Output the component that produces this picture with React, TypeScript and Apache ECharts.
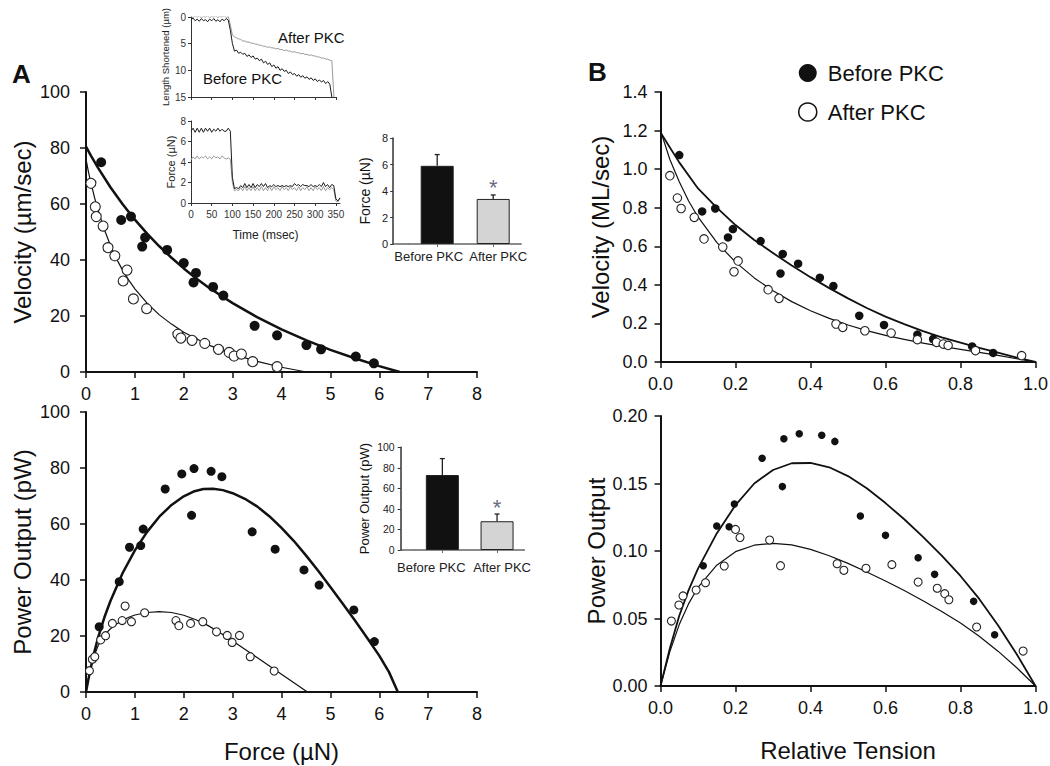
import React, { useEffect, useRef } from "react";
import * as echarts from "echarts";

const FONT = "'Liberation Sans', Arial, Helvetica, sans-serif";
const INK = "#111111";
const TRACE_GRAY = "#9a9a9a";

// ---------- Panel A : velocity vs force ----------
const A_VEL_BEFORE = [[0.31,74.9],[0.72,54.3],[0.92,55.5],[1.15,44.8],[1.21,48],[1.66,43.6],[2.0,38.9],[2.2,32],[2.25,35.4],[2.6,30.4],[2.81,27.3],[3.45,16.5],[3.91,13.1],[4.51,9.6],[4.81,8.1],[5.52,5.5],[5.89,3.1]];
const A_VEL_AFTER = [[0.10,67.4],[0.19,59],[0.21,55.5],[0.35,52.1],[0.45,44.4],[0.59,41.5],[0.76,32.5],[0.84,36.4],[0.97,26.1],[1.24,22.6],[1.88,13.5],[1.94,12.1],[2.17,11.3],[2.43,10.2],[2.71,8.1],[2.93,7],[3.03,5.7],[3.18,6.4],[3.41,3.7],[3.91,1.9]];
const A_VEL_FIT_BEFORE = [[0,80.5],[0.1,77.3],[0.25,72.8],[0.5,66],[0.75,59.9],[1,54.4],[1.25,49.4],[1.5,44.9],[1.75,40.8],[2,37],[2.25,33.5],[2.5,30.3],[2.75,27.4],[3,24.6],[3.5,19.6],[4,15.2],[4.5,11.4],[5,7.9],[5.5,4.9],[6,2.1],[6.42,0]];
const A_VEL_FIT_AFTER = [[0,76],[0.05,71.5],[0.1,67.6],[0.175,62.3],[0.25,57.5],[0.375,50.9],[0.5,45.2],[0.625,40.4],[0.75,36.3],[0.875,32.8],[1,29.7],[1.25,24.6],[1.5,20.4],[1.75,17.1],[2,14.2],[2.5,9.7],[3,6.4],[3.5,3.8],[4,1.7],[4.51,0]];

// ---------- Panel A : power vs force ----------
const A_POW_BEFORE = [[0.27,23.3],[0.68,39.4],[0.89,51.7],[1.12,52.3],[1.17,58.2],[1.62,72.5],[1.96,77.9],[2.16,63.1],[2.21,79.8],[2.56,78.8],[2.78,76.9],[3.4,57.2],[3.87,51],[4.46,43.6],[4.77,38.2],[5.48,29.3],[5.9,18]];
const A_POW_AFTER = [[0.07,7.6],[0.13,11.7],[0.18,12.6],[0.30,18.6],[0.40,20.1],[0.54,24.5],[0.74,25.5],[0.80,30.7],[0.93,25.1],[1.2,28.3],[1.84,25.5],[1.9,23.7],[2.14,24.5],[2.39,25.1],[2.67,21.5],[2.89,20.2],[2.99,17.7],[3.14,20.2],[3.36,12.6],[3.85,7.5]];
const A_POW_FIT_BEFORE = [[0,0],[0.05,4.6],[0.1,8.8],[0.175,14.6],[0.25,19.6],[0.375,26.6],[0.5,32.5],[0.75,42.5],[1,50.6],[1.25,57.2],[1.5,62.6],[1.75,66.8],[2,69.9],[2.2,71.6],[2.4,72.5],[2.6,72.6],[2.8,72.1],[3,71],[3.25,69],[3.5,66.3],[3.75,62.8],[4,58.6],[4.25,54],[4.5,48.8],[4.75,43.3],[5,37.5],[5.25,31.6],[5.5,25.6],[5.75,19.4],[6,13],[6.2,7.1],[6.38,0]];
const A_POW_FIT_AFTER = [[0,0],[0.05,4.8],[0.1,8.8],[0.175,13.3],[0.25,16.6],[0.375,20.3],[0.5,22.6],[0.625,24.3],[0.75,25.6],[0.875,26.7],[1,27.5],[1.25,28.4],[1.5,28.7],[1.75,28.4],[2,27.4],[2.25,25.8],[2.5,23.7],[2.75,21.1],[3,18.2],[3.5,12.3],[4,6.3],[4.53,0]];

// ---------- Panel B : velocity vs relative tension ----------
const B_VEL_BEFORE = [[0.05,1.073],[0.111,0.781],[0.146,0.796],[0.18,0.646],[0.193,0.689],[0.267,0.627],[0.326,0.56],[0.32,0.459],[0.367,0.51],[0.425,0.437],[0.461,0.394],[0.53,0.24],[0.596,0.192],[0.685,0.142],[0.727,0.119],[0.831,0.081],[0.887,0.047]];
const B_VEL_AFTER = [[0.025,0.966],[0.045,0.85],[0.055,0.796],[0.09,0.75],[0.116,0.638],[0.166,0.596],[0.196,0.468],[0.207,0.524],[0.287,0.375],[0.316,0.33],[0.468,0.197],[0.486,0.18],[0.545,0.162],[0.615,0.15],[0.685,0.116],[0.736,0.102],[0.754,0.093],[0.767,0.086],[0.84,0.059],[0.963,0.033]];
const B_VEL_FIT_BEFORE = [[0,1.19],[0.05,1.035],[0.1,0.9],[0.15,0.8],[0.2,0.71],[0.25,0.633],[0.3,0.565],[0.35,0.5],[0.4,0.44],[0.45,0.383],[0.5,0.33],[0.55,0.28],[0.6,0.235],[0.65,0.196],[0.7,0.16],[0.75,0.128],[0.8,0.1],[0.85,0.073],[0.9,0.048],[0.95,0.023],[1,0]];
const B_VEL_FIT_AFTER = [[0,1.2],[0.025,1.05],[0.05,0.935],[0.075,0.835],[0.1,0.752],[0.15,0.62],[0.2,0.518],[0.25,0.436],[0.3,0.369],[0.35,0.313],[0.4,0.266],[0.45,0.226],[0.5,0.192],[0.55,0.163],[0.6,0.138],[0.65,0.117],[0.7,0.098],[0.75,0.081],[0.8,0.065],[0.85,0.05],[0.9,0.034],[0.95,0.017],[1,0]];

// ---------- Panel B : power vs relative tension ----------
const B_POW_BEFORE = [[0.114,0.0891],[0.15,0.1185],[0.183,0.118],[0.197,0.1348],[0.271,0.1687],[0.325,0.1477],[0.329,0.1832],[0.37,0.1869],[0.43,0.1857],[0.465,0.1812],[0.533,0.1259],[0.6,0.1116],[0.687,0.095],[0.731,0.0827],[0.835,0.0627],[0.891,0.038]];
const B_POW_AFTER = [[0.029,0.0481],[0.049,0.06],[0.06,0.0667],[0.095,0.0711],[0.12,0.0765],[0.17,0.0889],[0.2,0.116],[0.212,0.11],[0.291,0.1081],[0.32,0.0891],[0.471,0.0906],[0.489,0.0857],[0.548,0.0872],[0.617,0.0899],[0.687,0.077],[0.738,0.0724],[0.758,0.0684],[0.769,0.0639],[0.843,0.0437],[0.967,0.0259]];
const B_POW_FIT_BEFORE = [[0,0],[0.025,0.028],[0.05,0.052],[0.075,0.071],[0.1,0.087],[0.15,0.113],[0.2,0.134],[0.25,0.15],[0.3,0.16],[0.35,0.165],[0.4,0.1652],[0.45,0.162],[0.5,0.1555],[0.55,0.1465],[0.6,0.1355],[0.65,0.1235],[0.7,0.1105],[0.75,0.0965],[0.8,0.0815],[0.85,0.0645],[0.9,0.045],[0.95,0.0235],[1,0]];
const B_POW_FIT_AFTER = [[0,0],[0.025,0.0255],[0.05,0.0455],[0.075,0.061],[0.1,0.073],[0.15,0.0895],[0.2,0.0995],[0.25,0.1043],[0.3,0.1057],[0.35,0.1045],[0.4,0.1012],[0.45,0.0965],[0.5,0.0908],[0.55,0.0845],[0.6,0.0778],[0.65,0.0707],[0.7,0.0632],[0.75,0.0552],[0.8,0.0466],[0.85,0.0368],[0.9,0.0258],[0.95,0.0135],[1,0]];

// ---------- Inset traces (time in msec) ----------
const TRACE_T = [0,5,10,15,20,25,30,35,40,45,50,55,60,65,70,75,80,85,90,95,100,105,110,115,120,125,130,135,140,145,150,155,160,165,170,175,180,185,190,195,200,205,210,215,220,225,230,235,240,245,250,255,260,265,270,275,280,285,290,295,300,305,310,315,320,325,330,335,340,345,350,355,360];
const LEN_BEFORE = [0.5,0.2,0.7,0.4,0.8,0.3,0.7,0.5,0.9,0.4,0.7,0.3,0.8,0.5,0.9,0.4,0.7,0.3,0.6,2.5,5.0,6.4,6.2,6.8,6.6,7.0,6.8,7.4,7.1,7.6,7.3,7.9,7.7,8.2,7.9,8.6,8.3,8.9,8.6,9.3,9.0,9.6,9.3,10.0,9.7,10.2,10.0,10.6,10.3,10.8,10.6,11.1,10.8,11.3,11.0,11.5,11.2,11.7,11.4,11.9,11.6,12.1,11.8,12.2,11.9,12.5,12.1,12.6,15];
const LEN_AFTER = [-0.1,0.1,-0.2,0.0,-0.2,0.1,-0.1,0.0,-0.2,0.1,-0.1,0.0,-0.2,0.1,-0.1,0.0,-0.2,0.1,-0.1,1.5,3.4,3.7,3.9,4.1,4.2,4.5,4.5,4.7,4.7,4.9,4.9,5.1,5.1,5.3,5.3,5.5,5.5,5.7,5.6,5.8,5.8,6.0,5.9,6.1,6.1,6.3,6.2,6.4,6.4,6.6,6.5,6.7,6.7,6.9,6.8,7.0,7.0,7.2,7.1,7.3,7.3,7.5,7.5,7.7,7.7,7.9,7.9,8.1,8.2,15];
const FORCE_BEFORE = [7.0,7.3,6.9,7.3,6.9,7.3,6.9,7.3,7.0,7.3,6.9,7.2,7.0,7.3,7.0,7.2,7.0,7.0,7.3,7.0,2.5,1.4,1.5,1.4,1.7,1.5,1.9,1.5,1.8,1.5,1.9,1.5,1.8,1.6,1.9,1.6,1.9,1.5,1.7,1.6,1.8,1.6,1.7,1.6,1.7,1.6,1.7,1.6,1.7,1.6,1.9,1.7,1.8,1.6,1.8,1.7,1.7,1.6,1.8,1.6,1.7,1.6,1.8,1.6,2.0,1.6,1.8,1.5,1.8,1.7,0.4,0.2,0.5];
const FORCE_AFTER = [4.2,4.5,4.3,4.6,4.3,4.5,4.4,4.6,4.3,4.5,4.3,4.6,4.4,4.5,4.3,4.6,4.4,4.3,4.4,4.3,2.0,1.2,1.3,1.2,1.5,1.2,1.6,1.2,1.5,1.2,1.6,1.2,1.5,1.2,1.6,1.2,1.5,1.2,1.6,1.2,1.6,1.3,1.5,1.2,1.6,1.3,1.5,1.2,1.6,1.3,1.5,1.2,1.6,1.2,1.5,1.3,1.6,1.2,1.5,1.2,1.6,1.3,1.5,1.2,1.6,1.2,1.5,1.3,1.5,1.3,0.2,0.1,0.5];
const TIME_TICKS = [0,50,100,150,200,250,300,350];

// ---------- Bar insets ----------
const BAR_GROUPS = ["Before PKC", "After PKC"];
const FORCE_MEANS = [5.9, 3.4];
const FORCE_ERR = [0.85, 0.3];
const POWER_MEANS = [73, 28];
const POWER_ERR = [16, 7];
const SIGNIFICANT = [0, 1];
const BAR_COLORS = ["#111111", "#d4d4d4"];

const pairs = (vals: number[]) => vals.map((v, i) => [TRACE_T[i], v]);

function mainX(grid: number, min: number, max: number, interval: number, digits: number, name?: string, gap?: number) {
  return {
    gridIndex: grid, type: "value", min, max, interval,
    axisLine: { show: true, onZero: false, lineStyle: { color: INK, width: 2 } },
    axisTick: { show: true, length: 6, lineStyle: { color: INK, width: 1.5 } },
    axisLabel: { color: INK, fontSize: 18, fontFamily: FONT, margin: 13, formatter: (v: number) => v.toFixed(digits) },
    splitLine: { show: false },
    name, nameLocation: "middle", nameGap: gap,
    nameTextStyle: { color: INK, fontSize: 24, fontFamily: FONT },
  };
}
function mainY(grid: number, min: number, max: number, interval: number, digits: number, name: string, gap: number, margin: number) {
  return {
    gridIndex: grid, type: "value", min, max, interval,
    axisLine: { show: true, onZero: false, lineStyle: { color: INK, width: 2 } },
    axisTick: { show: true, length: 6, lineStyle: { color: INK, width: 1.5 } },
    axisLabel: { color: INK, fontSize: 18, fontFamily: FONT, margin, formatter: (v: number) => v.toFixed(digits) },
    splitLine: { show: false },
    name, nameLocation: "middle", nameGap: gap, nameRotate: 90,
    nameTextStyle: { color: INK, fontSize: 24, fontFamily: FONT },
  };
}
const smallLine = { show: true, onZero: false, lineStyle: { color: "#333", width: 1 } };
const smallTick = { show: true, length: 3, lineStyle: { color: "#333", width: 1 } };

function scatter(name: string, grid: number, data: number[][], filled: boolean, size: number) {
  return {
    name, type: "scatter", xAxisIndex: grid, yAxisIndex: grid, data, symbol: "circle", symbolSize: size, z: 4,
    itemStyle: filled
      ? { color: INK, borderColor: INK, borderWidth: 0, opacity: 1 }
      : { color: "#ffffff", borderColor: "#222", borderWidth: 1.1, opacity: 1 },
  };
}
function fit(name: string, grid: number, data: number[][], width: number) {
  return {
    name, type: "line", xAxisIndex: grid, yAxisIndex: grid, data, showSymbol: false, symbol: "none",
    smooth: false, z: 3,
    lineStyle: { color: INK, width, join: "round" },
  };
}
function trace(name: string, grid: number, vals: number[], color: string) {
  return {
    name, type: "line", xAxisIndex: grid, yAxisIndex: grid, data: pairs(vals), showSymbol: false, symbol: "none",
    lineStyle: { color, width: 1 }, z: 3,
  };
}
function bars(name: string, grid: number, means: number[]) {
  return {
    name, type: "bar", xAxisIndex: grid, yAxisIndex: grid, data: means, barWidth: 33, z: 3,
    itemStyle: { color: (p: any) => BAR_COLORS[p.dataIndex], borderColor: "#222", borderWidth: 1, opacity: 1 },
  };
}
function errBars(name: string, grid: number, means: number[], errs: number[]) {
  return {
    name, type: "custom", xAxisIndex: grid, yAxisIndex: grid, z: 5,
    data: means.map((m, i) => [i, m, errs[i], SIGNIFICANT[i]]),
    encode: { x: 0, y: 1 },
    renderItem: (_params: any, api: any) => {
      const x = api.value(0), m = api.value(1), e = api.value(2), s = api.value(3);
      const p0 = api.coord([x, m]);
      const p1 = api.coord([x, m + e]);
      const kids: any[] = [
        { type: "line", shape: { x1: p0[0], y1: p0[1], x2: p1[0], y2: p1[1] }, style: { stroke: "#222", lineWidth: 1.3 } },
        { type: "line", shape: { x1: p1[0] - 2.5, y1: p1[1], x2: p1[0] + 2.5, y2: p1[1] }, style: { stroke: "#222", lineWidth: 1.3 } },
      ];
      if (s) {
        kids.push({ type: "text", x: p1[0], y: p1[1] - 18, style: { text: "*", fontSize: 22, fontFamily: FONT, fill: "#6b6b80", align: "center", verticalAlign: "top" } });
      }
      return { type: "group", children: kids };
    },
  };
}

function barCategoryAxis(grid: number, margin: number, padLeft: number, padRight: number) {
  return {
    gridIndex: grid, type: "category", data: BAR_GROUPS,
    axisLine: { show: true, lineStyle: { color: "#666", width: 1.5 } },
    axisTick: { show: true, alignWithLabel: true, length: 3, lineStyle: { color: "#666" } },
    axisLabel: {
      color: "#222", fontSize: 13, fontFamily: FONT, margin, interval: 0, hideOverlap: false,
      formatter: (v: string, i: number) => (i === 0 ? `{l|${v}}` : `{r|${v}}`),
      rich: {
        l: { color: "#222", fontSize: 13, fontFamily: FONT, padding: [0, padLeft, 0, 0] },
        r: { color: "#222", fontSize: 13, fontFamily: FONT, padding: [0, 0, 0, padRight] },
      },
    },
  };
}

function buildOption(): any {
  const grids = [
    { left: 86, top: 92, width: 391, height: 280 },
    { left: 86, top: 412, width: 391, height: 280 },
    { left: 660.5, top: 92, width: 375, height: 270 },
    { left: 660.5, top: 416, width: 375, height: 270 },
    { left: 191, top: 17, width: 145, height: 80 },
    { left: 191, top: 121, width: 149, height: 82 },
    { left: 409.2, top: 138, width: 112, height: 106 },
    { left: 415, top: 447.3, width: 109.4, height: 102.7 },
  ].map((g) => ({ ...g, containLabel: false, outerBoundsMode: "none", show: false }));

  const xAxis = [
    mainX(0, 0, 8, 1, 0),
    mainX(1, 0, 8, 1, 0, "Force (\u00b5N)", 47),
    mainX(2, 0, 1, 0.2, 1),
    mainX(3, 0, 1, 0.2, 1, "Relative Tension", 52),
    {
      gridIndex: 4, type: "value", min: 0, max: 350, interval: 50,
      axisLine: smallLine, axisTick: smallTick, axisLabel: { show: false }, splitLine: { show: false },
    },
    {
      gridIndex: 5, type: "value", min: 0, max: 360,
      axisLine: smallLine,
      axisTick: { ...smallTick, customValues: TIME_TICKS },
      axisLabel: { customValues: TIME_TICKS, color: "#333", fontSize: 10, fontFamily: FONT, margin: 6, formatter: (v: number) => (v % 50 === 0 ? String(v) : "") },
      splitLine: { show: false },
      name: "Time (msec)", nameLocation: "middle", nameGap: 26,
      nameTextStyle: { color: "#222", fontSize: 12, fontFamily: FONT },
    },
    barCategoryAxis(6, 6, 17, 10),
    barCategoryAxis(7, 11, 22, 10),
  ];

  const yAxis = [
    mainY(0, 0, 100, 20, 0, "Velocity (\u00b5m/sec)", 52, 16),
    mainY(1, 0, 100, 20, 0, "Power Output (pW)", 52, 16),
    mainY(2, 0, 1.4, 0.2, 1, "Velocity (ML/sec)", 48, 13),
    mainY(3, 0, 0.2, 0.05, 2, "Power Output", 48, 13),
    {
      gridIndex: 4, type: "value", min: 0, max: 15, interval: 5, inverse: true,
      axisLine: smallLine, axisTick: smallTick,
      axisLabel: { color: "#333", fontSize: 10, fontFamily: FONT, margin: 5 },
      splitLine: { show: false },
      name: "Length Shortened (\u00b5m)", nameLocation: "middle", nameGap: 19, nameRotate: 90,
      nameTextStyle: { color: "#222", fontSize: 9.5, fontFamily: FONT },
    },
    {
      gridIndex: 5, type: "value", min: 0, max: 8, interval: 2,
      axisLine: smallLine, axisTick: smallTick,
      axisLabel: { color: "#333", fontSize: 10, fontFamily: FONT, margin: 5 },
      splitLine: { show: false },
      name: "Force (\u00b5N)", nameLocation: "middle", nameGap: 15, nameRotate: 90,
      nameTextStyle: { color: "#222", fontSize: 11, fontFamily: FONT },
    },
    {
      gridIndex: 6, type: "value", min: 0, max: 8, interval: 2, offset: 16,
      axisLine: { show: true, onZero: false, lineStyle: { color: "#333", width: 1.5 } },
      axisTick: { show: true, length: 3, lineStyle: { color: "#333" } },
      axisLabel: { color: "#222", fontSize: 11, fontFamily: FONT, margin: 5 },
      splitLine: { show: false },
      name: "Force (\u00b5N)", nameLocation: "middle", nameGap: 21, nameRotate: 90,
      nameTextStyle: { color: "#111", fontSize: 14, fontFamily: FONT },
    },
    {
      gridIndex: 7, type: "value", min: 0, max: 100, interval: 20, offset: 14.3,
      axisLine: { show: true, onZero: false, lineStyle: { color: "#333", width: 1.5 } },
      axisTick: { show: true, length: 3, lineStyle: { color: "#333" } },
      axisLabel: { color: "#222", fontSize: 10.5, fontFamily: FONT, margin: 6 },
      splitLine: { show: false },
      name: "Power Output (pW)", nameLocation: "middle", nameGap: 30, nameRotate: 90,
      nameTextStyle: { color: "#111", fontSize: 13, fontFamily: FONT },
    },
  ];

  const series = [
    fit("A vel fit before", 0, A_VEL_FIT_BEFORE, 2.5),
    fit("A vel fit after", 0, A_VEL_FIT_AFTER, 1.2),
    scatter("A vel before", 0, A_VEL_BEFORE, true, 10),
    scatter("A vel after", 0, A_VEL_AFTER, false, 10),
    fit("A pow fit before", 1, A_POW_FIT_BEFORE, 2.5),
    fit("A pow fit after", 1, A_POW_FIT_AFTER, 1.2),
    scatter("A pow before", 1, A_POW_BEFORE, true, 9),
    scatter("A pow after", 1, A_POW_AFTER, false, 8),
    fit("B vel fit before", 2, B_VEL_FIT_BEFORE, 1.8),
    fit("B vel fit after", 2, B_VEL_FIT_AFTER, 1.2),
    scatter("Before PKC", 2, B_VEL_BEFORE, true, 8.5),
    scatter("After PKC", 2, B_VEL_AFTER, false, 8.5),
    fit("B pow fit before", 3, B_POW_FIT_BEFORE, 1.8),
    fit("B pow fit after", 3, B_POW_FIT_AFTER, 1.2),
    scatter("B pow before", 3, B_POW_BEFORE, true, 7.5),
    scatter("B pow after", 3, B_POW_AFTER, false, 8),
    trace("Length after", 4, LEN_AFTER, TRACE_GRAY),
    trace("Length before", 4, LEN_BEFORE, "#1a1a1a"),
    trace("Force after", 5, FORCE_AFTER, TRACE_GRAY),
    trace("Force before", 5, FORCE_BEFORE, "#1a1a1a"),
    bars("Force bars", 6, FORCE_MEANS),
    errBars("Force err", 6, FORCE_MEANS, FORCE_ERR),
    bars("Power bars", 7, POWER_MEANS),
    errBars("Power err", 7, POWER_MEANS, POWER_ERR),
  ];

  return {
    animation: false,
    backgroundColor: "#ffffff",
    textStyle: { fontFamily: FONT },
    grid: grids,
    xAxis,
    yAxis,
    series,
    legend: {
      data: [
        { name: "Before PKC", icon: "circle", itemStyle: { color: INK, opacity: 1 } },
        { name: "After PKC", icon: "circle", itemStyle: { borderWidth: 1.5, borderColor: "#111", color: "#fff", opacity: 1 } },
      ],
      orient: "vertical", left: 793, top: 57,
      itemWidth: 30, itemHeight: 18, itemGap: 17,
      selectedMode: false,
      textStyle: { color: INK, fontSize: 22, fontFamily: FONT },
    },
    graphic: [
      { type: "text", left: 12, top: 61, style: { text: "A", fontSize: 26, fontWeight: "bold", fontFamily: FONT, fill: INK } },
      { type: "text", left: 588, top: 59, style: { text: "B", fontSize: 26, fontWeight: "bold", fontFamily: FONT, fill: INK } },
      { type: "text", left: 278, top: 30, style: { text: "After PKC", fontSize: 15, fontFamily: FONT, fill: INK } },
      { type: "text", left: 203, top: 71, style: { text: "Before PKC", fontSize: 15, fontFamily: FONT, fill: INK } },
      { type: "line", shape: { x1: 393.3, y1: 244, x2: 409.2, y2: 244 }, style: { stroke: "#666", lineWidth: 1.5 } },
      { type: "line", shape: { x1: 400.7, y1: 550, x2: 415, y2: 550 }, style: { stroke: "#666", lineWidth: 1.5 } },
    ],
  };
}

export default function App() {
  const ref = useRef<HTMLDivElement>(null);
  useEffect(() => {
    document.body.style.margin = "0";
    const chart = echarts.init(ref.current as HTMLDivElement, null, { renderer: "svg" });
    chart.setOption(buildOption());
    return () => chart.dispose();
  }, []);
  return <div ref={ref} style={{ width: 1050, height: 766, background: "#fff" }} />;
}
